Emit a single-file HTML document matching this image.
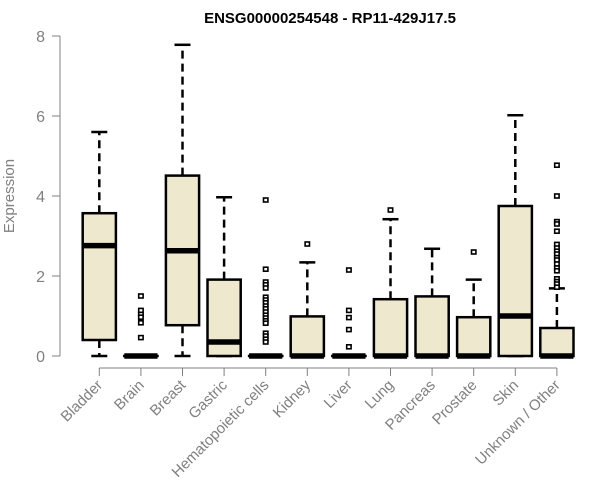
<!DOCTYPE html>
<html><head><meta charset="utf-8"><style>body{margin:0;background:#fff}svg{display:block;font-family:"Liberation Sans",sans-serif}</style></head>
<body>
<svg id="chart" width="600" height="500" viewBox="0 0 600 500">
<text x="330" y="23" text-anchor="middle" font-weight="bold" font-size="15">ENSG00000254548 - RP11-429J17.5</text>
<text transform="translate(14,196) rotate(-90)" text-anchor="middle" font-size="15" fill="#808080">Expression</text>
<g id="axes"></g><g id="boxes"></g>
</svg>
<script>
const categories=["Bladder","Brain","Breast","Gastric","Hematopoietic cells","Kidney","Liver","Lung","Pancreas","Prostate","Skin","Unknown / Other"];
const lowWhisker=[0,0,0,0,0,0,0,0,0,0,0,0];
const q1=[0.4,0,0.77,0,0,0,0,0,0,0,0,0];
const medians=[2.76,0,2.63,0.35,0,0,0,0,0,0,1.0,0];
const q3=[3.57,0,4.51,1.91,0,0.99,0,1.42,1.49,0.97,3.75,0.7];
const highWhisker=[5.6,0,7.78,3.97,0,2.34,0,3.42,2.68,1.91,6.02,1.69];
const outliers=[[],[1.5,1.14,1.04,0.97,0.83,0.46],[],[],
[3.9,2.17,1.85,1.78,1.7,1.47,1.4,1.33,1.25,1.18,1.1,1.02,0.95,0.88,0.82,0.57,0.5,0.42,0.35],
[2.8],[2.15,1.14,0.96,0.66,0.23],[3.65],[],[2.6],[],
[4.77,4.0,3.36,3.3,3.12,2.79,2.7,2.62,2.55,2.46,2.4,2.3,2.2,2.13,1.93,1.86,1.8,1.72]];
const yTicks=[0,2,4,6,8];
const NS="http://www.w3.org/2000/svg";
const y=v=>356-v*40;
const x=i=>99.3+i*41.6;
function mk(p,t,a){const e=document.createElementNS(NS,t);for(const k in a)e.setAttribute(k,a[k]);p.appendChild(e);return e;}
const ax=document.getElementById('axes'),bx=document.getElementById('boxes');
const yl=mk(ax,'line',{x1:60,x2:60,y1:y(0),y2:y(8),stroke:'#808080'});

yTicks.forEach(t=>{const l=mk(ax,'line',{x1:52,x2:60,y1:y(t),y2:y(t),stroke:'#808080'});

const tx=mk(ax,'text',{x:45,y:y(t)+6,'text-anchor':'end','font-size':16,fill:'#808080'});tx.textContent=t;
});
const xl=mk(ax,'line',{x1:x(0),x2:x(11),y1:368,y2:368,stroke:'#808080'});

categories.forEach((c,i)=>{const cx=x(i);
const l=mk(ax,'line',{x1:cx,x2:cx,y1:368,y2:376,stroke:'#808080'});

const tx=mk(ax,'text',{transform:`translate(${cx+4},${386}) rotate(-45)`,'text-anchor':'end','font-size':15,fill:'#808080'});tx.textContent=c;

const g=mk(bx,'g',{});

const w=16.6;
mk(g,'line',{x1:cx,x2:cx,y1:y(q3[i]),y2:y(highWhisker[i]),stroke:'#000','stroke-width':2.5,'stroke-dasharray':'8,5'});
mk(g,'line',{x1:cx,x2:cx,y1:y(q1[i]),y2:y(lowWhisker[i]),stroke:'#000','stroke-width':2.5,'stroke-dasharray':'8,5'});
mk(g,'line',{x1:cx-8,x2:cx+8,y1:y(highWhisker[i]),y2:y(highWhisker[i]),stroke:'#000','stroke-width':2.5});
mk(g,'line',{x1:cx-8,x2:cx+8,y1:y(lowWhisker[i]),y2:y(lowWhisker[i]),stroke:'#000','stroke-width':2.5});
mk(g,'rect',{x:cx-w,y:y(q3[i]),width:2*w,height:Math.max(0.01,y(q1[i])-y(q3[i])),fill:'#EEE8CE',stroke:'#000','stroke-width':2.5});
mk(g,'line',{x1:cx-w,x2:cx+w,y1:y(medians[i]),y2:y(medians[i]),stroke:'#000','stroke-width':5.5});
outliers[i].forEach(v=>{const p=mk(g,'rect',{x:cx-2.2,y:y(v)-2,width:4.4,height:4,fill:'#fff',stroke:'#000','stroke-width':1.6});
});
});
</script>
</body></html>
